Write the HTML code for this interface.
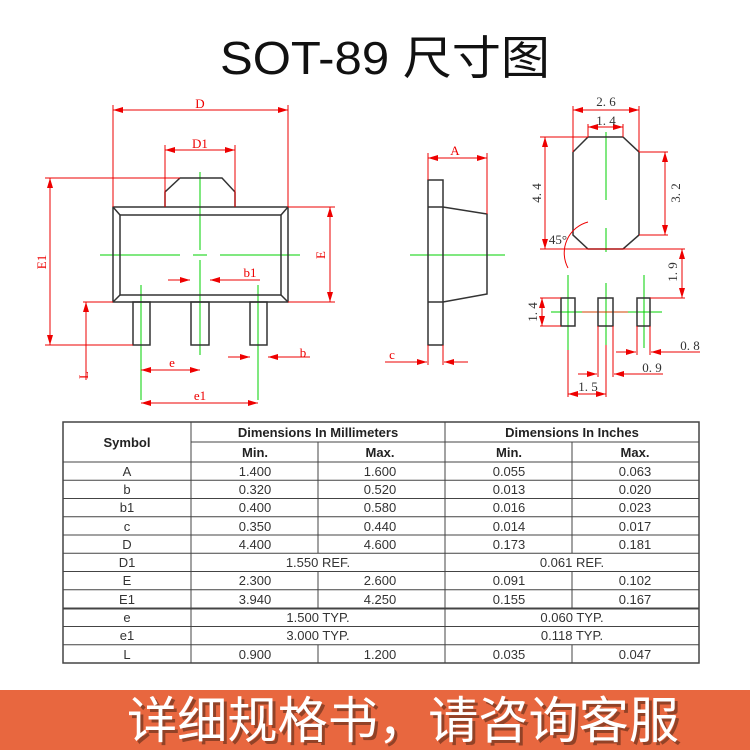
<!DOCTYPE html>
<html><head><meta charset="utf-8"><style>
html,body{margin:0;padding:0;background:#fff}
svg{display:block}
</style></head><body>
<svg width="750" height="750" viewBox="0 0 750 750" xmlns="http://www.w3.org/2000/svg">
<defs>
<marker id="ar" viewBox="0 0 10 6" refX="10" refY="3" markerWidth="10" markerHeight="6" markerUnits="userSpaceOnUse" orient="auto-start-reverse"><path d="M0,0 L10,3 L0,6 z" fill="#e00"/></marker>
</defs>
<rect width="750" height="750" fill="#fff"/>
<text x="385" y="74" text-anchor="middle" font-family="Liberation Sans, Noto Sans CJK SC, sans-serif" font-size="46" fill="#111" textLength="330" lengthAdjust="spacingAndGlyphs">SOT-89 尺寸图</text>

<!-- LEFT VIEW -->
<g fill="none" stroke="#00d000" stroke-width="1">
<line x1="100" y1="255" x2="180" y2="255"/><line x1="193" y1="255" x2="207" y2="255"/><line x1="220" y1="255" x2="300" y2="255"/>
<line x1="200" y1="172" x2="200" y2="250"/><line x1="200" y1="260" x2="200" y2="355"/>
<line x1="141" y1="285" x2="141" y2="400"/><line x1="258" y1="285" x2="258" y2="400"/>
</g>
<g fill="none" stroke="#333" stroke-width="1.5">
<rect x="113" y="207" width="175" height="95"/>
<rect x="120" y="215" width="161" height="80"/>
<line x1="113" y1="207" x2="120" y2="215"/><line x1="288" y1="207" x2="281" y2="215"/>
<line x1="113" y1="302" x2="120" y2="295"/><line x1="288" y1="302" x2="281" y2="295"/>
<path d="M165,207 L165,192 L180,178 L222,178 L235,192 L235,207"/>
<rect x="133" y="302" width="17" height="43"/>
<rect x="191" y="302" width="18" height="43"/>
<rect x="250" y="302" width="17" height="43"/>
</g>
<g stroke="#e00" stroke-width="1" fill="none">
<line x1="113" y1="105" x2="113" y2="207"/><line x1="288" y1="105" x2="288" y2="207"/>
<line x1="113" y1="110" x2="288" y2="110" marker-start="url(#ar)" marker-end="url(#ar)"/>
<line x1="165" y1="145" x2="165" y2="207"/><line x1="235" y1="145" x2="235" y2="207"/>
<line x1="165" y1="150" x2="235" y2="150" marker-start="url(#ar)" marker-end="url(#ar)"/>
<line x1="45" y1="178" x2="180" y2="178"/><line x1="45" y1="345" x2="133" y2="345"/>
<line x1="50" y1="178" x2="50" y2="345" marker-start="url(#ar)" marker-end="url(#ar)"/>
<line x1="288" y1="207" x2="335" y2="207"/><line x1="288" y1="302" x2="335" y2="302"/>
<line x1="330" y1="207" x2="330" y2="302" marker-start="url(#ar)" marker-end="url(#ar)"/>
<line x1="83" y1="302" x2="113" y2="302"/>
<line x1="86" y1="302" x2="86" y2="380" marker-start="url(#ar)"/>
<line x1="168" y1="280" x2="190" y2="280" marker-end="url(#ar)"/>
<line x1="260" y1="280" x2="210" y2="280" marker-end="url(#ar)"/>
<line x1="228" y1="357" x2="250" y2="357" marker-end="url(#ar)"/>
<line x1="310" y1="357" x2="268" y2="357" marker-end="url(#ar)"/>
<line x1="141" y1="370" x2="200" y2="370" marker-start="url(#ar)" marker-end="url(#ar)"/>
<line x1="141" y1="403" x2="258" y2="403" marker-start="url(#ar)" marker-end="url(#ar)"/>
</g>
<g fill="#e00" font-family="Liberation Serif, serif" font-size="13">
<text x="200" y="108" text-anchor="middle">D</text>
<text x="200" y="148" text-anchor="middle">D1</text>
<text x="250" y="277" text-anchor="middle">b1</text>
<text x="303" y="357" text-anchor="middle">b</text>
<text x="172" y="367" text-anchor="middle">e</text>
<text x="200" y="400" text-anchor="middle">e1</text>
<text transform="translate(46,262) rotate(-90)" text-anchor="middle">E1</text>
<text transform="translate(325,255) rotate(-90)" text-anchor="middle">E</text>
<text transform="translate(88,375) rotate(-90)" text-anchor="middle">L</text>
</g>

<!-- MIDDLE VIEW -->
<line x1="410" y1="255" x2="505" y2="255" stroke="#00d000"/>
<g fill="none" stroke="#333" stroke-width="1.5">
<rect x="428" y="180" width="15" height="165"/>
<path d="M428,207 L443,207 L487,214 L487,294 L443,302 L428,302"/>
</g>
<g stroke="#e00" fill="none">
<line x1="428" y1="153" x2="428" y2="180"/><line x1="487" y1="153" x2="487" y2="214"/>
<line x1="428" y1="158" x2="487" y2="158" marker-start="url(#ar)" marker-end="url(#ar)"/>
<line x1="428" y1="345" x2="428" y2="365"/><line x1="443" y1="345" x2="443" y2="365"/>
<line x1="385" y1="362" x2="427" y2="362" marker-end="url(#ar)"/>
<line x1="468" y1="362" x2="444" y2="362" marker-end="url(#ar)"/>
</g>
<g fill="#e00" font-family="Liberation Serif, serif" font-size="13">
<text x="455" y="155" text-anchor="middle">A</text>
<text x="392" y="359" text-anchor="middle">c</text>
</g>

<!-- RIGHT VIEW -->
<g stroke="#00d000" fill="none">
<line x1="606" y1="132" x2="606" y2="200"/><line x1="606" y1="228" x2="606" y2="252"/>
<line x1="568" y1="275" x2="568" y2="350"/><line x1="606" y1="283" x2="606" y2="345"/><line x1="644" y1="275" x2="644" y2="348"/>
<line x1="551" y1="312" x2="662" y2="312"/>
</g>
<line x1="582" y1="312" x2="628" y2="312" stroke="#d04000"/>
<g fill="none" stroke="#333" stroke-width="1.5">
<path d="M588,137 L623,137 L639,152 L639,235 L623,249 L588,249 L573,235 L573,152 Z"/>
<rect x="561" y="298" width="14" height="28"/>
<rect x="598" y="298" width="15" height="28"/>
<rect x="637" y="298" width="13" height="28"/>
</g>
<g stroke="#e00" fill="none">
<line x1="573" y1="106" x2="573" y2="152"/><line x1="639" y1="106" x2="639" y2="152"/>
<line x1="573" y1="110" x2="639" y2="110" marker-start="url(#ar)" marker-end="url(#ar)"/>
<line x1="588" y1="124" x2="588" y2="137"/><line x1="623" y1="124" x2="623" y2="137"/>
<line x1="588" y1="127" x2="623" y2="127" marker-start="url(#ar)" marker-end="url(#ar)"/>
<line x1="540" y1="137" x2="588" y2="137"/><line x1="540" y1="249" x2="685" y2="249"/>
<line x1="545" y1="137" x2="545" y2="249" marker-start="url(#ar)" marker-end="url(#ar)"/>
<line x1="639" y1="152" x2="668" y2="152"/><line x1="639" y1="235" x2="668" y2="235"/>
<line x1="665" y1="152" x2="665" y2="235" marker-start="url(#ar)" marker-end="url(#ar)"/>
<line x1="650" y1="298" x2="685" y2="298"/>
<line x1="682" y1="249" x2="682" y2="298" marker-start="url(#ar)" marker-end="url(#ar)"/>
<line x1="540" y1="298" x2="561" y2="298"/><line x1="540" y1="326" x2="561" y2="326"/>
<line x1="542" y1="298" x2="542" y2="326" marker-start="url(#ar)" marker-end="url(#ar)"/>
<path d="M588,222 A32,32 0 0 0 568,268"/>
<line x1="568" y1="350" x2="568" y2="397"/><line x1="606" y1="345" x2="606" y2="397"/>
<line x1="598" y1="326" x2="598" y2="377"/><line x1="613" y1="326" x2="613" y2="377"/>
<line x1="637" y1="326" x2="637" y2="355"/><line x1="650" y1="326" x2="650" y2="355"/>
<line x1="616" y1="352" x2="636" y2="352" marker-end="url(#ar)"/>
<line x1="700" y1="352" x2="651" y2="352" marker-end="url(#ar)"/>
<line x1="578" y1="374" x2="597" y2="374" marker-end="url(#ar)"/>
<line x1="663" y1="374" x2="614" y2="374" marker-end="url(#ar)"/>
<line x1="568" y1="394" x2="606" y2="394" marker-start="url(#ar)" marker-end="url(#ar)"/>
</g>
<g fill="#333" font-family="Liberation Serif, serif" font-size="13">
<text x="606" y="106" text-anchor="middle">2. 6</text>
<text x="606" y="125" text-anchor="middle">1. 4</text>
<text x="558" y="244" text-anchor="middle">45°</text>
<text transform="translate(541,193) rotate(-90)" text-anchor="middle">4. 4</text>
<text transform="translate(680,193) rotate(-90)" text-anchor="middle">3. 2</text>
<text transform="translate(677,272) rotate(-90)" text-anchor="middle">1. 9</text>
<text transform="translate(537,312) rotate(-90)" text-anchor="middle">1. 4</text>
<text x="690" y="350" text-anchor="middle">0. 8</text>
<text x="652" y="372" text-anchor="middle">0. 9</text>
<text x="588" y="391" text-anchor="middle">1. 5</text>
</g>

<!-- TABLE -->
<g stroke="#444" stroke-width="1" fill="none">
<rect x="63" y="422" width="636" height="241" stroke-width="1.5"/>
<line x1="191" y1="422" x2="191" y2="663"/>
<line x1="445" y1="422" x2="445" y2="663"/>
<line x1="191" y1="442" x2="699" y2="442"/>
<line x1="63" y1="462" x2="699" y2="462"/>
<line x1="318" y1="442" x2="318" y2="553"/><line x1="318" y1="571" x2="318" y2="609"/><line x1="318" y1="645" x2="318" y2="663"/>
<line x1="572" y1="442" x2="572" y2="553"/><line x1="572" y1="571" x2="572" y2="609"/><line x1="572" y1="645" x2="572" y2="663"/>
<line x1="63" y1="480.3" x2="699" y2="480.3"/>
<line x1="63" y1="498.5" x2="699" y2="498.5"/>
<line x1="63" y1="516.8" x2="699" y2="516.8"/>
<line x1="63" y1="535" x2="699" y2="535"/>
<line x1="63" y1="553.3" x2="699" y2="553.3"/>
<line x1="63" y1="571.5" x2="699" y2="571.5"/>
<line x1="63" y1="589.8" x2="699" y2="589.8"/>
<line x1="63" y1="608.5" x2="699" y2="608.5" stroke-width="2"/>
<line x1="63" y1="626.5" x2="699" y2="626.5"/>
<line x1="63" y1="644.8" x2="699" y2="644.8"/>
</g>
<g font-family="Liberation Sans, sans-serif" font-size="13" fill="#222" text-anchor="middle">
<g font-weight="bold">
<text x="127" y="447">Symbol</text>
<text x="318" y="437">Dimensions In Millimeters</text>
<text x="572" y="437">Dimensions In Inches</text>
<text x="255" y="457">Min.</text><text x="380" y="457">Max.</text>
<text x="509" y="457">Min.</text><text x="635" y="457">Max.</text>
</g>
<g fill="#333">
<text x="127" y="476">A</text><text x="255" y="476">1.400</text><text x="380" y="476">1.600</text><text x="509" y="476">0.055</text><text x="635" y="476">0.063</text>
<text x="127" y="494">b</text><text x="255" y="494">0.320</text><text x="380" y="494">0.520</text><text x="509" y="494">0.013</text><text x="635" y="494">0.020</text>
<text x="127" y="512">b1</text><text x="255" y="512">0.400</text><text x="380" y="512">0.580</text><text x="509" y="512">0.016</text><text x="635" y="512">0.023</text>
<text x="127" y="531">c</text><text x="255" y="531">0.350</text><text x="380" y="531">0.440</text><text x="509" y="531">0.014</text><text x="635" y="531">0.017</text>
<text x="127" y="549">D</text><text x="255" y="549">4.400</text><text x="380" y="549">4.600</text><text x="509" y="549">0.173</text><text x="635" y="549">0.181</text>
<text x="127" y="567">D1</text><text x="318" y="567">1.550 REF.</text><text x="572" y="567">0.061 REF.</text>
<text x="127" y="585">E</text><text x="255" y="585">2.300</text><text x="380" y="585">2.600</text><text x="509" y="585">0.091</text><text x="635" y="585">0.102</text>
<text x="127" y="604">E1</text><text x="255" y="604">3.940</text><text x="380" y="604">4.250</text><text x="509" y="604">0.155</text><text x="635" y="604">0.167</text>
<text x="127" y="622">e</text><text x="318" y="622">1.500 TYP.</text><text x="572" y="622">0.060 TYP.</text>
<text x="127" y="640">e1</text><text x="318" y="640">3.000 TYP.</text><text x="572" y="640">0.118 TYP.</text>
<text x="127" y="659">L</text><text x="255" y="659">0.900</text><text x="380" y="659">1.200</text><text x="509" y="659">0.035</text><text x="635" y="659">0.047</text>
</g>
</g>

<!-- BANNER -->
<rect x="0" y="690" width="750" height="60" fill="#e8673f"/>
<text x="406" y="741" text-anchor="middle" font-family="Noto Sans CJK SC, sans-serif" font-size="50" fill="#5a2a18" opacity="0.6" textLength="552" lengthAdjust="spacingAndGlyphs">详细规格书，请咨询客服</text>
<text x="403" y="738" text-anchor="middle" font-family="Noto Sans CJK SC, sans-serif" font-size="50" fill="#fff" textLength="552" lengthAdjust="spacingAndGlyphs">详细规格书，请咨询客服</text>
</svg>
</body></html>
